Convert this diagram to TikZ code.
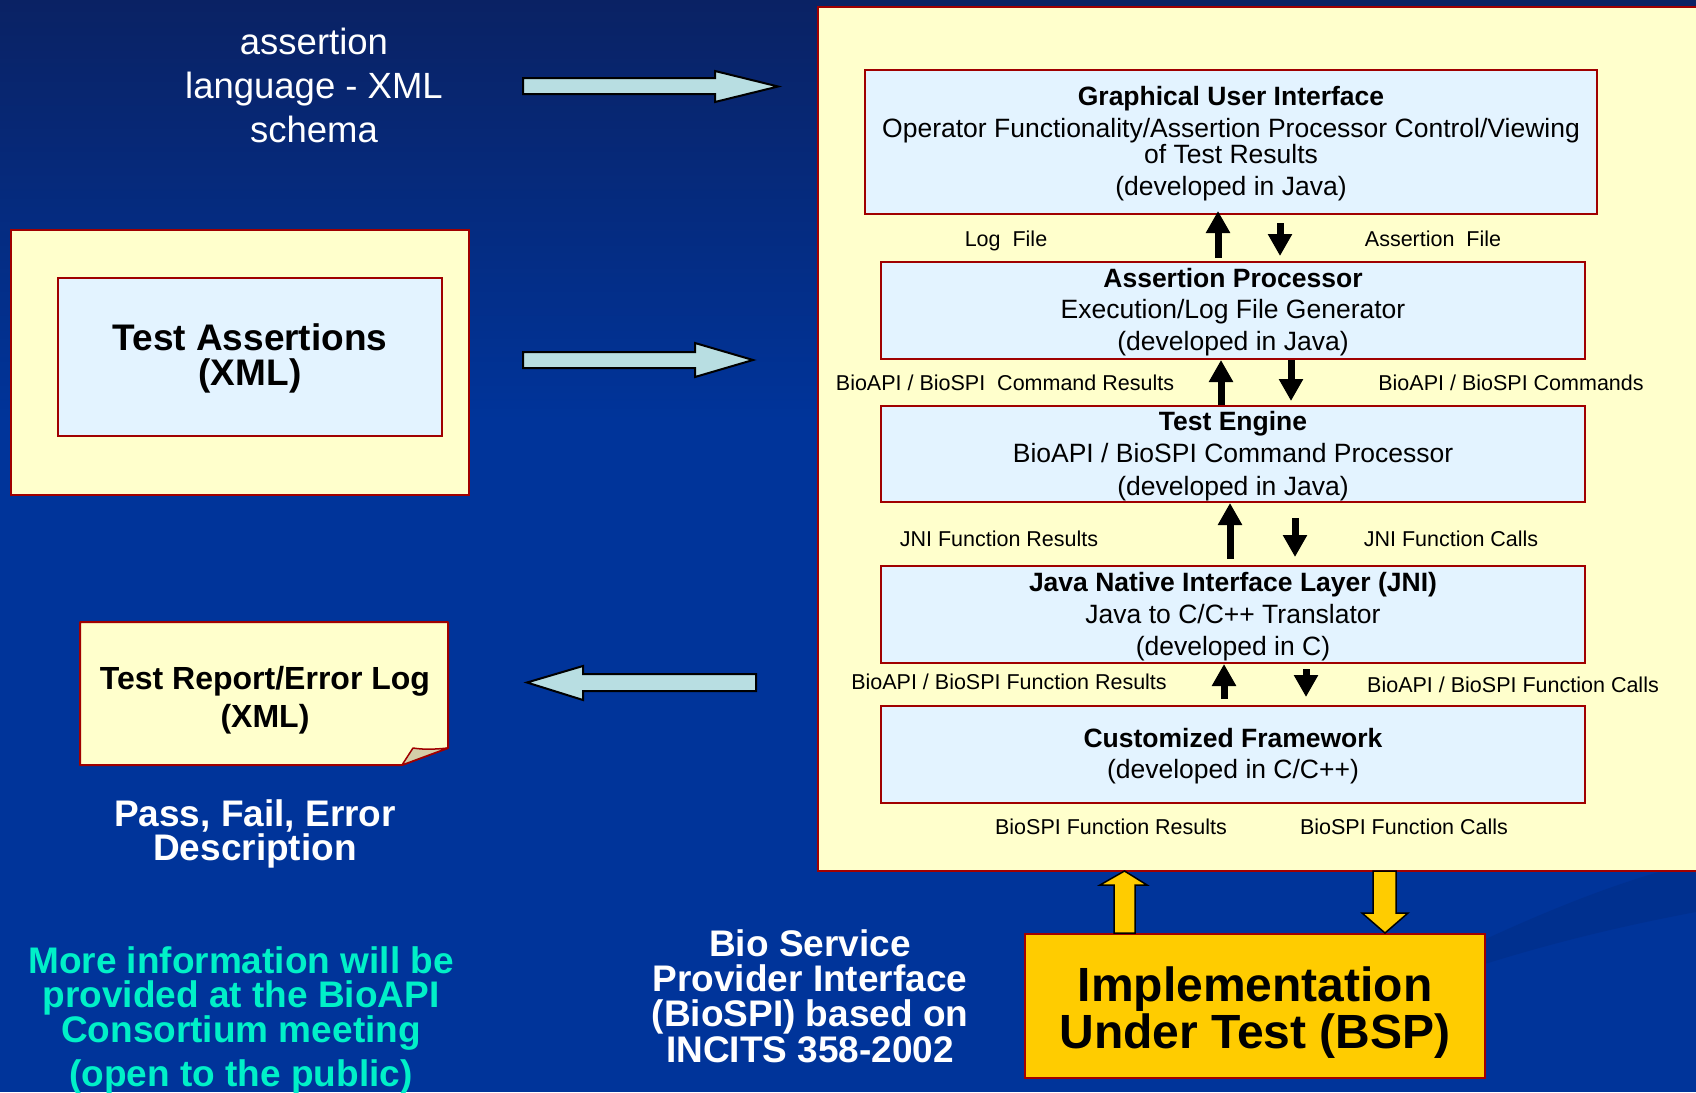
\documentclass[tikz,border=0pt]{standalone}
\usepackage{fontspec}
\setmainfont{Liberation Sans}
\usetikzlibrary{calc,arrows.meta}
\definecolor{bgtop}{RGB}{10,34,100}
\definecolor{bgbot}{RGB}{0,52,154}
\definecolor{bgband}{RGB}{0,42,128}
\definecolor{panelY}{RGB}{255,255,204}
\definecolor{boxB}{RGB}{227,243,255}
\definecolor{edgeR}{RGB}{160,0,0}
\definecolor{arrB}{RGB}{184,222,226}
\definecolor{gold}{RGB}{255,204,0}
\definecolor{cyanT}{RGB}{0,240,200}
\definecolor{flapC}{RGB}{212,206,168}
\begin{document}
\begin{tikzpicture}[x=1pt,y=-1pt,
  ybox/.style={draw=edgeR, line width=2pt, fill=panelY, inner sep=0pt},
  bbox/.style={draw=edgeR, line width=2pt, fill=boxB, inner sep=0pt, minimum width=704pt, minimum height=97pt},
  tx/.style={anchor=base, inner sep=0pt, text=black},
  wt/.style={anchor=base, inner sep=0pt, text=white},
  ct/.style={anchor=base, inner sep=0pt, text=cyanT},
  f26/.style={font=\fontsize{26.5}{32}\selectfont},
  f26b/.style={font=\fontsize{26.5}{32}\selectfont\bfseries},
  f21/.style={font=\fontsize{21.5}{26}\selectfont},
  f36/.style={font=\fontsize{36.5}{44}\selectfont},
  f37b/.style={font=\fontsize{37}{44}\selectfont\bfseries},
  f32b/.style={font=\fontsize{32}{38}\selectfont\bfseries},
  f48b/.style={font=\fontsize{48}{56}\selectfont\bfseries},
  blk/.style={line width=7pt, -{Triangle[width=23pt,length=22pt]}},
  barrow/.style={draw=black, line width=2pt, fill=arrB, line join=miter},
  yarrow/.style={draw=black, line width=1.5pt, fill=gold, line join=miter}]
\useasboundingbox (0,0) rectangle (1696,1092);
% background
\fill[bgbot] (0,0) rectangle (1696,1092);
\shade[top color=bgtop, bottom color=bgbot] (0,0) rectangle (1696,420);
\fill[bgband, opacity=0.4] (1380,1000) .. controls (1500,955) and (1600,930) .. (1696,912)
  -- (1696,862) .. controls (1600,885) and (1500,930) .. (1380,990) -- cycle;

% left text: assertion language
\node[wt,f36] (as1) at (314,54) {assertion};
\node[wt,f36] (as2) at (314,98) {language - XML};
\node[wt,f36] (as3) at (314,142) {schema};

% block arrows
\draw[barrow] (523,78) -- (715,78) -- (715,71) -- (778,86.5) -- (715,102) -- (715,94) -- (523,94) -- cycle;
\draw[barrow] (523,352) -- (695,352) -- (695,343) -- (753,360) -- (695,377) -- (695,368) -- (523,368) -- cycle;
\draw[barrow] (756,674) -- (583,674) -- (583,666) -- (527,682.5) -- (583,700) -- (583,691) -- (756,691) -- cycle;

% Test assertions
\node[ybox, minimum width=458pt, minimum height=265pt] (ta) at (240,362.5) {};
\node[bbox, minimum width=384pt, minimum height=158pt] (tai) at (250,357) {};
\node[tx,f37b] (ta1) at (250,350.5) {Test Assertions};
\node[tx,f37b] (ta2) at (250,385.5) {(XML)};

% Test report with folded corner
\draw[draw=edgeR, line width=2pt, fill=panelY, line join=round] (80,622) -- (448,622) -- (448,748) -- (402,765) -- (80,765) -- cycle;
\draw[draw=edgeR, line width=1.5pt, fill=flapC, line join=round] (402,765) -- (413,748) .. controls (425,750) and (438,749) .. (448,748) -- cycle;
\node[tx,f32b] (tr1) at (265,689) {Test Report/Error Log};
\node[tx,f32b] (tr2) at (265,727) {(XML)};

\node[wt,f37b] (pf1) at (255,826) {Pass, Fail, Error};
\node[wt,f37b] (pf2) at (255,860) {Description};

\node[ct,f37b] (mi1) at (241,973.5) {More information will be};
\node[ct,f37b] (mi2) at (241,1007) {provided at the BioAPI};
\node[ct,f37b] (mi3) at (241,1042.5) {Consortium meeting};
\node[ct,f37b] (mi4) at (241,1086.5) {(open to the public)};

\node[wt,f37b] (bs1) at (810,956) {Bio Service};
\node[wt,f37b] (bs2) at (810,991) {Provider Interface};
\node[wt,f37b] (bs3) at (810,1026) {(BioSPI) based on};
\node[wt,f37b] (bs4) at (810,1062) {INCITS 358-2002};

% main panel
\node[ybox, anchor=north west, minimum width=903pt, minimum height=864pt] (panel) at (817,6) {};

\node[bbox, minimum width=732pt, minimum height=144pt] (gui) at (1231,142) {};
\node[bbox] (ap) at (1233,310.5) {};
\node[bbox, minimum height=96pt] (te) at (1233,454) {};
\node[bbox] (jni) at (1233,614.5) {};
\node[bbox] (cf) at (1233,754.5) {};

\node[tx,f26b] (g1) at (1231,105) {Graphical User Interface};
\node[tx,f26] (g2) at (1231,137.5) {Operator Functionality/Assertion Processor Control/Viewing};
\node[tx,f26] (g3) at (1231,163.5) {of Test Results};
\node[tx,f26] (g4) at (1231,195) {(developed in Java)};

\node[tx,f26b] (a1) at (1233,287) {Assertion Processor};
\node[tx,f26] (a2) at (1233,318.5) {Execution/Log File Generator};
\node[tx,f26] (a3) at (1233,350.5) {(developed in Java)};

\node[tx,f26b] (e1) at (1233,430) {Test Engine};
\node[tx,f26] (e2) at (1233,462.5) {BioAPI / BioSPI Command Processor};
\node[tx,f26] (e3) at (1233,495) {(developed in Java)};

\node[tx,f26b] (j1) at (1233,591) {Java Native Interface Layer (JNI)};
\node[tx,f26] (j2) at (1233,623) {Java to C/C++ Translator};
\node[tx,f26] (j3) at (1233,655) {(developed in C)};

\node[tx,f26b] (c1) at (1233,747) {Customized Framework};
\node[tx,f26] (c2) at (1233,778) {(developed in C/C++)};

% labels
\node[tx,f21] (l1) at (1006,246) {Log\ \ File};
\node[tx,f21] (l2) at (1433,246) {Assertion\ \ File};
\node[tx,f21] (l3) at (1005,390) {BioAPI / BioSPI\ \ Command Results};
\node[tx,f21] (l4) at (1511,390) {BioAPI / BioSPI Commands};
\node[tx,f21] (l5) at (999,546) {JNI Function Results};
\node[tx,f21] (l6) at (1451,546) {JNI Function Calls};
\node[tx,f21] (l7) at (1009,689) {BioAPI / BioSPI Function Results};
\node[tx,f21] (l8) at (1513,692) {BioAPI / BioSPI Function Calls};
\node[tx,f21] (l9) at (1111,834) {BioSPI Function Results};
\node[tx,f21] (l10) at (1404,834) {BioSPI Function Calls};

% black arrows
\draw[blk] ([xshift=-15pt,yshift=3pt]ap.north) -- ([xshift=-13pt,yshift=4pt]gui.south);
\draw[blk] ([xshift=49pt,yshift=-8pt]gui.south) -- ([xshift=47pt,yshift=5pt]ap.north);
\draw[blk] ([xshift=-12pt]te.north) -- ([xshift=-12pt]ap.south);
\draw[blk] ([xshift=58pt]ap.south) -- ([xshift=58pt,yshift=4pt]te.north);
\draw[blk] ([xshift=-3pt,yshift=6pt]jni.north) -- ([xshift=-3pt]te.south);
\draw[blk] ([xshift=62pt,yshift=-15pt]te.south) -- ([xshift=62pt,yshift=8pt]jni.north);
\draw[blk] ([xshift=-9pt,yshift=6pt]cf.north) -- ([xshift=-9pt]jni.south);
\draw[blk] ([xshift=73pt,yshift=-5pt]jni.south) -- ([xshift=73pt,yshift=8pt]cf.north);

% implementation under test
\node[draw=edgeR, line width=2pt, fill=gold, inner sep=0pt, minimum width=460pt, minimum height=144pt] (iut) at (1255,1006) {};
\node[tx,f48b] (i1) at (1255,1001.5) {Implementation};
\node[tx,f48b] (i2) at (1255,1048.5) {Under Test (BSP)};

% yellow block arrows
\draw[yarrow] (1114,933) -- (1114,885) -- (1100,885) -- (1124.5,871) -- (1147,885) -- (1135,885) -- (1135,933) -- cycle;
\draw[yarrow] (1373,871) -- (1373,913) -- (1362,913) -- (1385,933) -- (1408,913) -- (1396,913) -- (1396,871) -- cycle;
\end{tikzpicture}
\end{document}
